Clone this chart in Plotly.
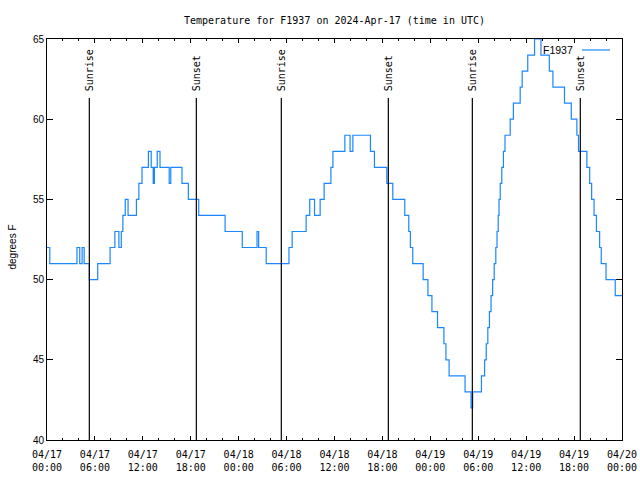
import plotly.graph_objects as go

# Hours since 2024-04-17 00:00 UTC at which the reading changes, and the reading (deg F)
hours = [0.0, 0.35, 3.75, 4.1, 4.4, 4.65, 5.3, 6.35, 7.9, 8.5, 9.0, 9.3, 9.5, 9.8,
         10.15, 11.2, 11.5, 11.9, 12.7, 13.05, 13.3, 13.45, 13.8, 14.15, 15.3, 15.5,
         16.9, 17.7, 19.0, 22.3, 24.45, 26.3, 26.5, 27.45, 30.3, 30.7, 32.45, 32.9,
         33.5, 34.2, 34.7, 35.55, 35.8, 37.3, 37.95, 38.3, 40.5, 41.0, 42.55, 43.3,
         44.8, 45.3, 45.5, 45.8, 47.1, 47.7, 48.2, 48.9, 49.7, 49.95, 50.35, 52.35,
         53.1, 53.3, 54.4, 54.8, 55.0, 55.2, 55.4, 55.6, 55.8, 56.0, 56.2, 56.35,
         56.5, 56.6, 56.75, 56.95, 57.15, 57.35, 58.0, 58.4, 59.25, 59.5, 60.2,
         61.05, 61.85, 62.9, 63.35, 64.8, 65.65, 66.35, 66.55, 67.6, 67.95, 68.2,
         68.5, 68.8, 69.2, 69.4, 70.0, 71.15, 72.0]
temps = [52, 51, 52, 51, 52, 51, 50, 51, 52, 53, 52, 53, 54, 55,
         54, 55, 56, 57, 58, 57, 56, 57, 58, 57, 56, 57,
         56, 55, 54, 53, 52, 53, 52, 51, 52, 53, 54, 55,
         54, 55, 56, 57, 58, 59, 58, 59, 58, 57, 56, 55,
         54, 53, 52, 51, 50, 49, 48, 47, 46, 45, 44, 43,
         42, 43, 44, 45, 46, 47, 48, 49, 50, 51, 52, 53,
         54, 55, 56, 57, 58, 59, 60, 61, 62, 63, 64,
         65, 64, 63, 62, 61, 60, 59, 58, 57, 56, 55,
         54, 53, 52, 51, 50, 49, 49]

sunrise = [5.30, 29.34, 53.26]
sunset = [18.70, 42.74, 66.78]

tick_hours = [0, 6, 12, 18, 24, 30, 36, 42, 48, 54, 60, 66, 72]
tick_labels = ["04/17<br>00:00", "04/17<br>06:00", "04/17<br>12:00", "04/17<br>18:00",
               "04/18<br>00:00", "04/18<br>06:00", "04/18<br>12:00", "04/18<br>18:00",
               "04/19<br>00:00", "04/19<br>06:00", "04/19<br>12:00", "04/19<br>18:00",
               "04/20<br>00:00"]
y_ticks = [40, 45, 50, 55, 60, 65]

MONO = "DejaVu Sans Mono"
SANS = "Liberation Sans"
BLUE = "#1a86ff"

L, R, T, B = 47, 18, 39, 40
PW, PH = 640 - L - R, 480 - T - B


def px(xp):
    return (xp - L) / PW


def py(yp):
    return (480 - B - yp) / PH


fig = go.Figure()
fig.add_trace(go.Scatter(x=hours, y=temps, mode="lines", line_shape="hv",
                         line=dict(color=BLUE, width=1.2), name="F1937",
                         showlegend=False))

shapes = []
annotations = []
for label, times in (("Sunrise", sunrise), ("Sunset", sunset)):
    for t in times:
        shapes.append(dict(type="line", xref="x", yref="paper", x0=t, x1=t,
                           y0=0, y1=py(98), line=dict(color="black", width=1.2)))
        annotations.append(dict(x=t, y=py(92), xref="x", yref="paper", text=label,
                                textangle=-90, showarrow=False, xanchor="center",
                                yanchor="bottom", borderpad=0,
                                font=dict(family=MONO, size=10, color="black")))

# key (text then sample line, gnuplot style)
annotations.append(dict(x=px(574), y=py(50), xref="paper", yref="paper",
                        text="F1937", showarrow=False, xanchor="right", yanchor="middle",
                        borderpad=0, font=dict(family=SANS, size=10.5, color="black")))
shapes.append(dict(type="line", xref="paper", yref="paper",
                   x0=px(582), x1=px(610), y0=py(50), y1=py(50),
                   line=dict(color=BLUE, width=1.2)))

# y axis title
annotations.append(dict(x=px(11.5), y=py(247), xref="paper", yref="paper",
                        text="degrees F", textangle=-90, showarrow=False,
                        xanchor="center", yanchor="middle",
                        font=dict(family=SANS, size=10, color="black")))

fig.update_layout(
    width=640, height=480,
    margin=dict(l=L, r=R, t=T, b=B, autoexpand=False),
    paper_bgcolor="white", plot_bgcolor="white",
    title=dict(text="Temperature for F1937 on 2024-Apr-17 (time in UTC)",
               x=0.5, xref="paper", y=1 - 20 / 480, yref="container",
               xanchor="center", yanchor="middle",
               font=dict(family=MONO, size=10, color="black")),
    shapes=shapes, annotations=annotations,
    xaxis=dict(range=[0, 72], tickvals=tick_hours, ticktext=tick_labels,
               ticks="inside", ticklen=4, tickcolor="black", tickwidth=1,
               showline=True, linecolor="black", linewidth=1, mirror="allticks",
               showgrid=False, zeroline=False, automargin=False,
               ticklabelstandoff=5,
               minor=dict(dtick=2, tick0=0, ticks="inside", ticklen=2,
                          tickcolor="black", showgrid=False),
               tickfont=dict(family=MONO, size=10, color="black")),
    yaxis=dict(range=[40, 65], tickvals=y_ticks,
               ticks="inside", ticklen=6, tickcolor="black", tickwidth=1,
               showline=True, linecolor="black", linewidth=1, mirror="allticks",
               showgrid=False, zeroline=False, automargin=False,
               tickfont=dict(family=SANS, size=10, color="black")),
)

fig.write_html("out.html", config={"displayModeBar": False},
               post_script="document.body.style.margin='0';document.body.style.overflow='hidden';")
